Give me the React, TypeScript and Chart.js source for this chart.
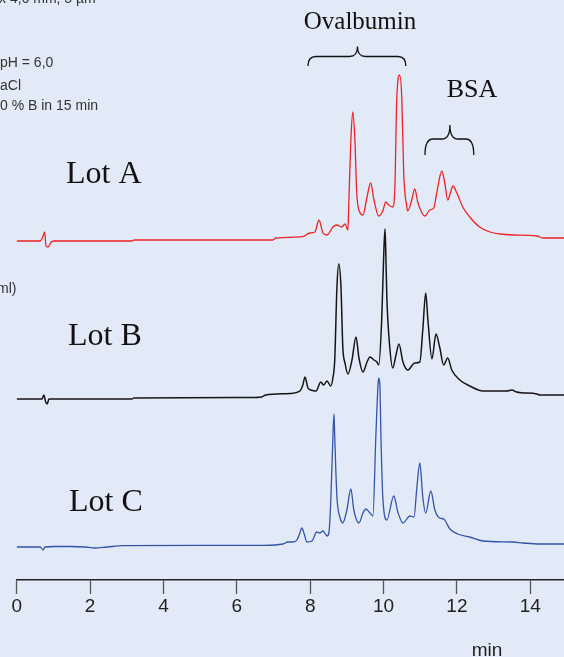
import React, { useEffect, useRef } from "react";
import { Chart, registerables } from "chart.js";

Chart.register(...registerables);

const BG = "#e2eaf7";

// Retention times (min) and detector signal (height above each trace's own baseline)
const lotATime = [0, 0.64, 0.72, 0.76, 0.8, 0.85, 0.94, 1.04, 3.14, 3.2, 6.98, 7.07, 7.8, 7.99, 8.13, 8.24, 8.35, 8.46, 8.62, 8.73, 8.86, 8.95, 9.03, 9.05, 9.11, 9.16, 9.22, 9.27, 9.35, 9.44, 9.55, 9.65, 9.74, 9.87, 9.98, 10.06, 10.14, 10.25, 10.31, 10.36, 10.44, 10.5, 10.55, 10.64, 10.66, 10.77, 10.85, 10.94, 11.13, 11.26, 11.37, 11.45, 11.59, 11.67, 11.75, 11.83, 11.89, 12.0, 12.16, 12.35, 12.62, 12.9, 13.17, 13.52, 14.18, 14.34, 14.92];
const lotASignal = [0, 0, 5, 9, -5, -6, -1, 0, 0, 1, 1, 3, 4.3, 8, 9, 21, 8, 6, 14, 16, 14, 17, 11, 34, 101, 129, 101, 48, 29, 26, 44, 58, 41, 25, 30, 39, 36, 34, 54, 141, 166, 141, 68, 33, 30, 41, 52, 38, 25, 31, 33, 48, 70, 58, 41, 49, 55, 48, 34, 24, 14, 9, 7, 6, 5, 3, 3];

const lotBTime = [0, 0.69, 0.74, 0.79, 0.83, 0.88, 3.14, 3.2, 6.36, 6.68, 6.79, 7.45, 7.72, 7.8, 7.86, 7.94, 8.02, 8.16, 8.29, 8.37, 8.46, 8.56, 8.62, 8.67, 8.73, 8.78, 8.84, 8.89, 8.95, 9.03, 9.14, 9.25, 9.33, 9.44, 9.55, 9.63, 9.74, 9.82, 9.87, 9.95, 10.01, 10.04, 10.06, 10.09, 10.17, 10.25, 10.34, 10.42, 10.53, 10.66, 10.85, 10.99, 11.07, 11.15, 11.21, 11.32, 11.43, 11.53, 11.64, 11.75, 11.86, 12.08, 12.35, 12.71, 13.36, 13.5, 13.63, 14.18, 14.26, 14.92];
const lotBSignal = [0, 0, 4, -3, -5, 0, 0, 1, 1.5, 2, 4, 5.5, 8, 14, 22, 11, 9, 8, 17, 14, 18, 13, 21, 39, 112, 135, 112, 52, 36, 25, 39, 62, 41, 27, 37, 42, 39, 37, 34, 79, 149, 170, 149, 102, 52, 31, 44, 55, 37, 29, 36, 37, 69, 106, 79, 40, 65, 52, 34, 41, 29, 19, 13, 8, 8, 9, 7, 5, 4, 4];

const lotCTime = [0, 0.64, 0.72, 0.77, 1.04, 1.45, 1.86, 2.13, 2.46, 2.9, 6.71, 7.26, 7.39, 7.53, 7.64, 7.72, 7.77, 7.83, 7.91, 8.05, 8.18, 8.26, 8.35, 8.46, 8.51, 8.56, 8.62, 8.65, 8.67, 8.73, 8.81, 8.89, 9.0, 9.11, 9.19, 9.33, 9.44, 9.52, 9.63, 9.71, 9.79, 9.85, 9.87, 9.9, 9.93, 9.98, 10.09, 10.28, 10.39, 10.53, 10.72, 10.83, 10.91, 10.99, 11.07, 11.15, 11.29, 11.4, 11.53, 11.64, 11.81, 12.02, 12.35, 12.71, 13.52, 13.8, 14.26, 14.92];
const lotCSignal = [0, 0, -3, 0, 0.5, 0.5, 0, -1, 0, 1.3, 1.7, 3, 5, 5, 7, 14, 19, 14, 5, 6, 15, 14, 16, 11, 14, 44, 110, 133, 110, 50, 30, 24, 37, 58, 37, 24, 34, 38, 34, 31, 110, 162, 169, 162, 110, 50, 27, 51, 35, 24, 31, 30, 60, 84, 50, 34, 56, 37, 29, 28, 18, 13, 10, 6, 5, 4, 3, 3];

// vertical offsets of the stacked traces
const lotOffsets = [339, 181, 33];
const lotNames = ["Lot A", "Lot B", "Lot C"];
const lotColors = ["#ee2226", "#151515", "#3553a8"];
const lotLabelPos = [[66, 183], [68, 345], [69, 511]];

// x ticks
const xMin = 0;
const xMax = 14.92;
const xStep = 2;
const xUnit = "min";

// brace annotations: [startTime, tipTime, endTime, lineY, endY, tipY]
const braceLabels = ["Ovalbumin", "BSA"];
const braceSpecs = [
  [7.94, 9.29, 10.61, 523.5, 514, 533.5],
  [11.13, 11.81, 12.46, 441, 425, 455],
];
const braceTextPos = [[360, 22, 25], [472, 90, 26]];

// method text at left (partially cut off in the original)
const methodLines = ["x 4,6 mm, 5 µm", "pH = 6,0", "aCl", "0 % B in 15 min", "ml)"];
const methodPos = [[-1, 3], [0, 67], [0, 89.5], [0, 110], [-3, 293]];

function makeSeries(t: number[], s: number[], off: number) {
  return t.map((v, i) => ({ x: v, y: off + s[i] }));
}

export default function App() {
  const ref = useRef<HTMLCanvasElement | null>(null);

  useEffect(() => {
    document.body.style.margin = "0";
    document.body.style.background = BG;
    const canvas = ref.current;
    if (!canvas) return;

    const series = [
      makeSeries(lotATime, lotASignal, lotOffsets[0]),
      makeSeries(lotBTime, lotBSignal, lotOffsets[1]),
      makeSeries(lotCTime, lotCSignal, lotOffsets[2]),
    ];

    const decor = {
      id: "decor",
      beforeDraw(chart: any) {
        const ctx = chart.ctx;
        ctx.save();
        ctx.fillStyle = BG;
        ctx.fillRect(0, 0, chart.width, chart.height);
        ctx.restore();
      },
      afterDraw(chart: any) {
        const ctx = chart.ctx;
        const xs = chart.scales.x;
        const ys = chart.scales.y;
        ctx.save();
        // lot labels
        ctx.fillStyle = "#111";
        ctx.textBaseline = "alphabetic";
        ctx.textAlign = "left";
        ctx.font = '32px "Liberation Serif", "Times New Roman", serif';
        lotNames.forEach((n, i) => {
          ctx.fillText(n, lotLabelPos[i][0], lotLabelPos[i][1]);
        });
        // brace labels
        ctx.textAlign = "center";
        ctx.textBaseline = "middle";
        braceLabels.forEach((n, i) => {
          ctx.font = `${braceTextPos[i][2]}px "Liberation Serif", "Times New Roman", serif`;
          ctx.fillText(n, braceTextPos[i][0], braceTextPos[i][1]);
        });
        // braces
        ctx.strokeStyle = "#111";
        ctx.lineWidth = 1.3;
        braceSpecs.forEach((b) => {
          const x0 = xs.getPixelForValue(b[0]);
          const xm = xs.getPixelForValue(b[1]);
          const x1 = xs.getPixelForValue(b[2]);
          const yl = ys.getPixelForValue(b[3]);
          const ye = ys.getPixelForValue(b[4]);
          const yt = ys.getPixelForValue(b[5]);
          const r = Math.min(8, (x1 - x0) / 6);
          ctx.beginPath();
          ctx.moveTo(x0, ye);
          ctx.quadraticCurveTo(x0, yl, x0 + r, yl);
          ctx.lineTo(xm - r, yl);
          ctx.quadraticCurveTo(xm, yl, xm, yt);
          ctx.quadraticCurveTo(xm, yl, xm + r, yl);
          ctx.lineTo(x1 - r, yl);
          ctx.quadraticCurveTo(x1, yl, x1, ye);
          ctx.stroke();
        });
        // method text
        ctx.fillStyle = "#333";
        ctx.textAlign = "left";
        ctx.textBaseline = "alphabetic";
        ctx.font = '14px "Liberation Sans", Arial, sans-serif';
        methodLines.forEach((m, i) => {
          ctx.fillText(m, methodPos[i][0], methodPos[i][1]);
        });
        // axis unit
        ctx.fillStyle = "#222";
        ctx.textAlign = "center";
        ctx.font = '19px "Liberation Sans", Arial, sans-serif';
        ctx.fillText(xUnit, 487, 656);
        ctx.restore();
      },
    };

    const chart = new Chart(canvas, {
      type: "line",
      data: {
        datasets: series.map((d, i) => ({
          label: lotNames[i],
          data: d,
          borderColor: lotColors[i],
          borderWidth: i === 1 ? 1.5 : 1.3,
          pointRadius: 0,
          fill: false,
          tension: 0,
          cubicInterpolationMode: "monotone" as const,
        })),
      },
      options: {
        animation: false,
        responsive: true,
        maintainAspectRatio: false,
        parsing: false as any,
        normalized: true,
        layout: { padding: { left: 16.7, right: 0, top: 0, bottom: 0 }, autoPadding: false },
        plugins: {
          legend: { display: false },
          tooltip: { enabled: false },
        },
        scales: {
          x: {
            type: "linear",
            min: xMin,
            max: xMax,
            afterFit: (s: any) => {
              s.height = 77;
            },
            border: { display: true, color: "#222", width: 1.6 },
            grid: {
              display: true,
              drawOnChartArea: false,
              drawTicks: true,
              tickLength: 14,
              tickColor: "#555",
              tickWidth: 1.3,
            },
            ticks: {
              stepSize: xStep,
              includeBounds: false,
              autoSkip: false,
              maxRotation: 0,
              padding: 1,
              color: "#222",
              font: { family: '"Liberation Sans", Arial, sans-serif', size: 19 },
            },
          },
          y: {
            type: "linear",
            display: false,
            min: 0,
            max: 580,
          },
        },
      },
      plugins: [decor],
    });

    return () => chart.destroy();
  }, []);

  return (
    <div style={{ position: "fixed", left: 0, top: 0, width: 564, height: 657, background: BG }}>
      <canvas ref={ref} />
    </div>
  );
}
